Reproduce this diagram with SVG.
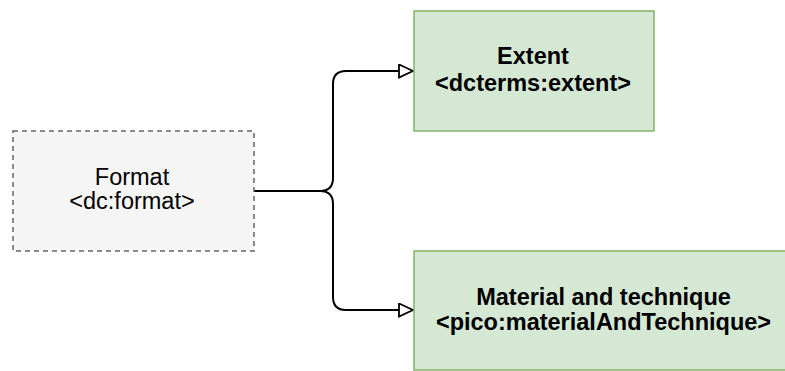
<svg xmlns="http://www.w3.org/2000/svg" width="785" height="371" viewBox="0 0 785 371">
<style>
.t{font-family:"Liberation Sans",Arial,Helvetica,sans-serif;font-size:23.5px;fill:#000;text-anchor:middle}
.b{font-weight:bold}
.green{fill:#d5e8d4;stroke:#82b366;stroke-width:1.5}
.grey{fill:#f5f5f5;stroke:#666;stroke-width:1.5;stroke-dasharray:5 4}
.edge{fill:none;stroke:#000;stroke-width:2}
</style>
<defs>
<marker id="arr" markerWidth="16" markerHeight="16" refX="15" refY="7.5" orient="auto" markerUnits="userSpaceOnUse">
<path d="M1,1 L15,7.5 L1,14 Z" fill="#fff" stroke="#000" stroke-width="1.8"/>
</marker>
</defs>
<rect width="785" height="371" fill="#fff"/>
<g id="connectors">
<path class="edge" d="M254,191 L320,191 Q333,191 333,178 L333,84 Q333,71 346,71 L413,71" marker-end="url(#arr)"/>
<path class="edge" d="M254,191 L320,191 Q333,191 333,204 L333,297 Q333,310 346,310 L413,310" marker-end="url(#arr)"/>
</g>
<g id="format">
<rect class="grey" x="13" y="131" width="241" height="120"/>
<text class="t" x="132" y="184.5">Format</text>
<text class="t" x="132" y="208.5">&lt;dc:format&gt;</text>
</g>
<g id="extent">
<rect class="green" x="414" y="11" width="240" height="120"/>
<text class="t b" x="533" y="64">Extent</text>
<text class="t b" x="533" y="90.5">&lt;dcterms:extent&gt;</text>
</g>
<g id="material">
<rect class="green" x="414" y="251" width="380" height="119"/>
<text class="t b" x="603.5" y="305">Material and technique</text>
<text class="t b" x="603.5" y="329.5">&lt;pico:materialAndTechnique&gt;</text>
</g>
</svg>
